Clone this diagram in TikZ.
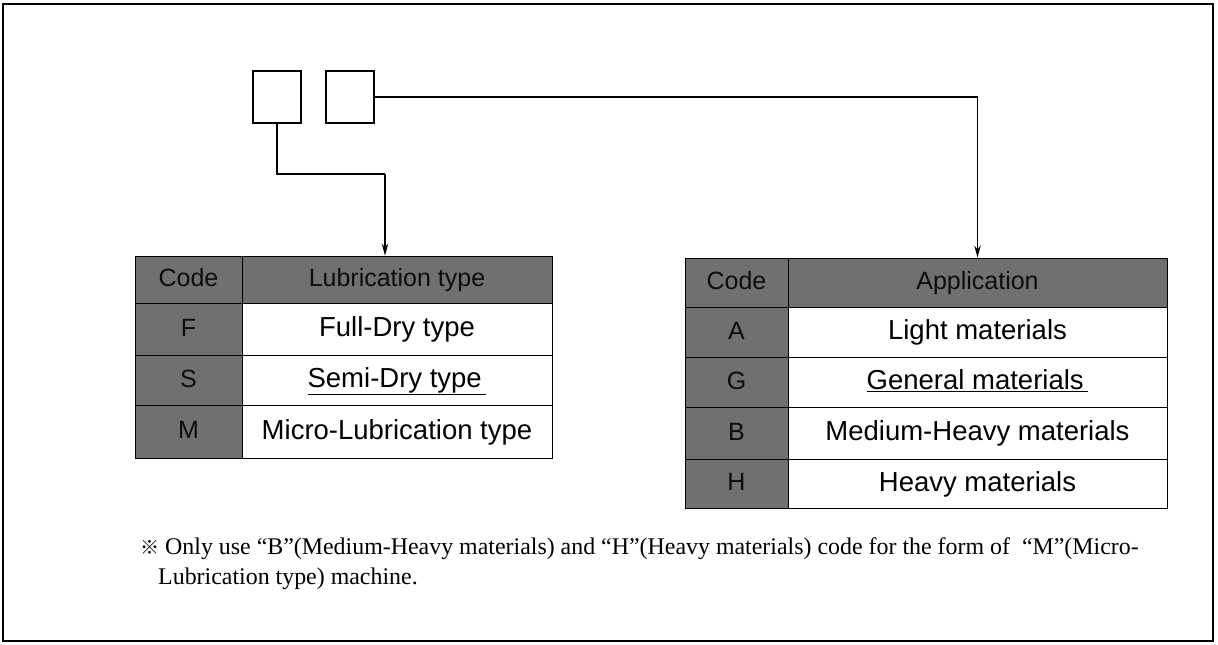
\documentclass[tikz,border=0pt]{standalone}
\usepackage{fontspec}
\setmainfont{Liberation Serif}
\newfontfamily\tabfont{Liberation Sans}
\newfontfamily\cjk{Noto Sans CJK SC}
\usetikzlibrary{arrows.meta}
\begin{document}
\begin{tikzpicture}[x=1pt,y=-1pt,
  frame/.style={draw=black,line width=1.6pt},
  codebox/.style={draw=black,line width=1.8pt,minimum width=48pt,minimum height=52pt,inner sep=0pt},
  conn/.style={draw=black,line width=1.1pt},
  arr/.style={conn,-{Stealth[length=12pt,width=6.5pt]}},
  dark/.style={draw=black,line width=0.9pt,fill=black!56,text=black!95,inner sep=0pt,text height=19pt,text depth=5pt,font=\tabfont\fontsize{25}{28}\selectfont},
  cell/.style={draw=black,line width=0.9pt,fill=white,inner sep=0pt,text height=19pt,text depth=4pt,font=\tabfont\fontsize{27.5}{30}\selectfont},
  note/.style={inner sep=0pt,anchor=west,font=\fontsize{23.9}{26}\selectfont}
]
\useasboundingbox (0,0) rectangle (1218,645);
\draw[frame] (3,4) rectangle (1213,641);

% top code boxes
\node[codebox] (b1) at (277,97) {};
\node[codebox] (b2) at (350,97) {};

% left table
\node[dark,minimum width=107pt,minimum height=47pt] (lhc) at (188.5,279.5) {Code};
\node[dark,minimum width=310pt,minimum height=47pt] (lhd) at (397,279.5) {Lubrication type};
\node[dark,minimum width=107pt,minimum height=52pt] (lc1) at (188.5,329) {F};
\node[cell,minimum width=310pt,minimum height=52pt] (ld1) at (397,329) {Full-Dry type};
\node[dark,minimum width=107pt,minimum height=50pt] (lc2) at (188.5,380) {S};
\node[cell,minimum width=310pt,minimum height=50pt] (ld2) at (397,380) {\underline{Semi-Dry type\,}};
\node[dark,minimum width=107pt,minimum height=53pt] (lc3) at (188.5,431.5) {M};
\node[cell,minimum width=310pt,minimum height=53pt] (ld3) at (397,431.5) {Micro-Lubrication type};

% right table
\node[dark,minimum width=103pt,minimum height=49pt] (rhc) at (736.5,282.5) {Code};
\node[dark,minimum width=379pt,minimum height=49pt] (rhd) at (977.5,282.5) {Application};
\node[dark,minimum width=103pt,minimum height=50pt] (rc1) at (736.5,332) {A};
\node[cell,minimum width=379pt,minimum height=50pt] (rd1) at (977.5,332) {Light materials};
\node[dark,minimum width=103pt,minimum height=50pt] (rc2) at (736.5,382) {G};
\node[cell,minimum width=379pt,minimum height=50pt] (rd2) at (977.5,382) {\underline{General materials\,}};
\node[dark,minimum width=103pt,minimum height=52pt] (rc3) at (736.5,433) {B};
\node[cell,minimum width=379pt,minimum height=52pt] (rd3) at (977.5,433) {Medium-Heavy materials};
\node[dark,minimum width=103pt,minimum height=49pt] (rc4) at (736.5,483.5) {H};
\node[cell,minimum width=379pt,minimum height=49pt] (rd4) at (977.5,483.5) {Heavy materials};

% connectors
\coordinate (c1) at (385,174);
\draw[conn] (b1.south) |- (c1);
\draw[arr] (c1) -- (c1 |- lhd.north);
\draw[arr] (b2.east) -| (rhd.north);

% note
\node[note] (n1) at (140,549) {{\cjk\fontsize{19}{20}\selectfont ※}\ Only use “B”(Medium-Heavy materials) and “H”(Heavy materials) code for the form of \ “M”(Micro-};
\node[note] (n2) at (158,579) {Lubrication type) machine.};
\end{tikzpicture}
\end{document}
